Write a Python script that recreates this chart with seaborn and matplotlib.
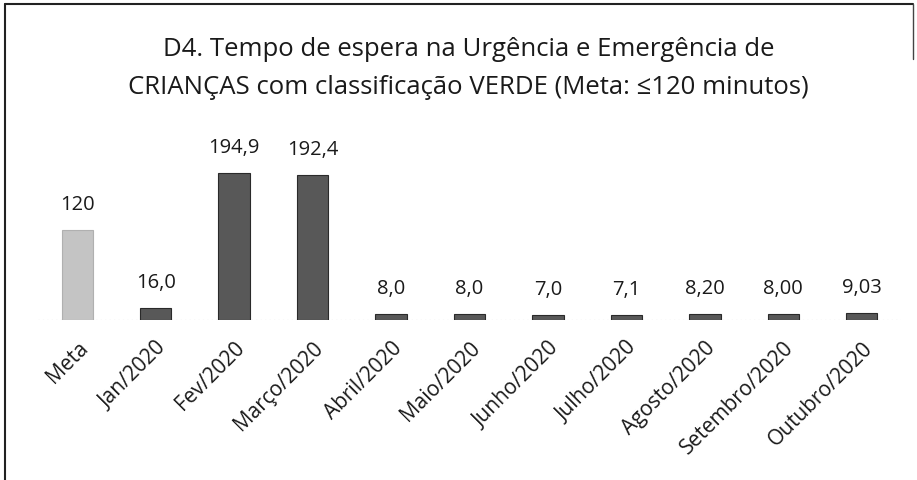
import matplotlib
matplotlib.use("Agg")
import matplotlib.pyplot as plt
import seaborn as sns
import pandas as pd
from matplotlib.lines import Line2D

categories = ["Meta", "Jan/2020", "Fev/2020", "Março/2020", "Abril/2020", "Maio/2020",
              "Junho/2020", "Julho/2020", "Agosto/2020", "Setembro/2020", "Outubro/2020"]
values = [120, 16.0, 194.9, 192.4, 8.0, 8.0, 7.0, 7.1, 8.20, 8.00, 9.03]
value_labels = ["120", "16,0", "194,9", "192,4", "8,0", "8,0", "7,0", "7,1", "8,20", "8,00", "9,03"]
group = ["meta"] + ["mes"] * 10

sns.set_theme(style="white")
plt.rcParams["font.family"] = ["Open Sans", "DejaVu Sans"]

df = pd.DataFrame({"cat": categories, "val": values, "grp": group})

fig = plt.figure(figsize=(9.17, 4.81), dpi=100)
ax = fig.add_axes([38/917, 1 - 321/481, (901-38)/917, 173/481])

sns.barplot(data=df, x="cat", y="val", hue="grp", dodge=False, ax=ax,
            palette={"meta": "#c4c4c4", "mes": "#585858"}, width=0.4,
            edgecolor="#2a2a2a", linewidth=0.8, legend=False)
ax.patches[0].set_edgecolor("#b0b0b0")

ax.set_ylim(0, 229.5)
ax.set_xlim(-0.5, len(categories) - 0.5)
ax.axhline(0, color="#999999", lw=0.8, ls=(0, (1, 3)), zorder=0)

for i, (v, lab) in enumerate(zip(values, value_labels)):
    ax.annotate(lab, (i, v), xytext=(0, 18.5), textcoords="offset points",
                ha="center", va="center", fontsize=14.5, color="#1a1a1a")

ax.set_xlabel("")
ax.set_ylabel("")
ax.set_yticks([])
ax.set_xticks(range(len(categories)))
ax.set_xticklabels(categories, rotation=45, ha="right", rotation_mode="anchor",
                   fontsize=15, color="#1a1a1a")
ax.tick_params(axis="x", length=0, pad=12)
for s in ax.spines.values():
    s.set_visible(False)

fig.text(0.511, 1 - 50/481, "D4. Tempo de espera na Urgência e Emergência de",
         ha="center", va="center", fontsize=18.5, color="#1a1a1a")
fig.text(0.511, 1 - 88/481, "CRIANÇAS com classificação VERDE (Meta: ≤120 minutos)",
         ha="center", va="center", fontsize=18.5, color="#1a1a1a")

# frame
W, H = 917, 481
fig.add_artist(Line2D([5/W, 5/W], [0, 1 - 5/H], color="#222222", lw=1.5, transform=fig.transFigure))
fig.add_artist(Line2D([5/W, 913/W], [1 - 5/H, 1 - 5/H], color="#222222", lw=1.5, transform=fig.transFigure))
fig.add_artist(Line2D([913/W, 913/W], [1 - 5/H, 1 - 60/H], color="#444444", lw=1.0, transform=fig.transFigure))

fig.savefig("out.png", dpi=100)
